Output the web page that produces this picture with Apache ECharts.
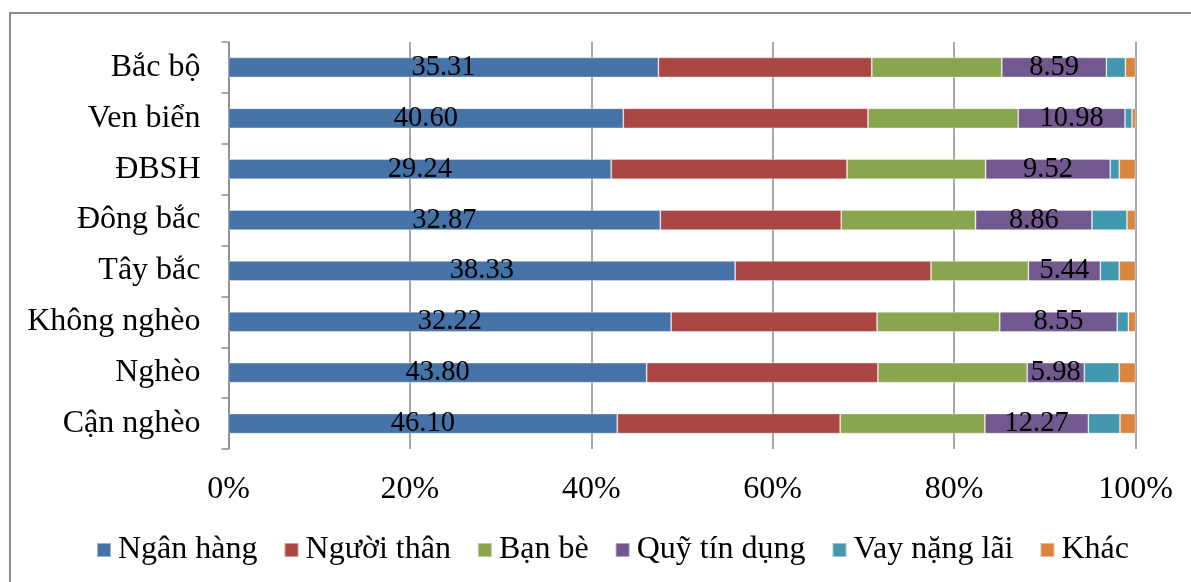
<!DOCTYPE html>
<html>
<head>
<meta charset="utf-8">
<script src="https://cdn.jsdelivr.net/npm/echarts@6/dist/echarts.min.js"></script>
<style>
  html, body { margin: 0; padding: 0; background: #fff; }
  #frame { position: absolute; left: 9px; top: 12px; width: 1200px; height: 600px; border: 2px solid #8a8a8a; box-sizing: border-box; }
  #chart { position: absolute; left: 0; top: 0; width: 1191px; height: 582px; }
</style>
</head>
<body>
<div id="frame"></div>
<div id="chart"></div>
<script>
// Loan sources by region / poverty group (raw values, shown as shares of each row)
const categories = ['Bắc bộ', 'Ven biển', 'ĐBSH', 'Đông bắc', 'Tây bắc', 'Không nghèo', 'Nghèo', 'Cận nghèo'];
const nganHang   = [35.31, 40.60, 29.24, 32.87, 38.33, 32.22, 43.80, 46.10];
const nguoiThan  = [17.52, 25.16, 18.02, 13.77, 14.82, 14.99, 24.22, 26.43];
const banBe      = [10.68, 15.45, 10.59, 10.23,  7.37,  8.93, 15.64, 17.16];
const quyTinDung = [ 8.59, 10.98,  9.52,  8.86,  5.44,  8.55,  5.98, 12.27];
const vayNangLai = [ 1.56,  0.72,  0.69,  2.66,  1.43,  0.81,  3.66,  3.75];
const khac       = [ 0.83,  0.36,  1.24,  0.65,  1.23,  0.52,  1.70,  1.84];
const xTicks = [0, 20, 40, 60, 80, 100];

const seriesDefs = [
  { name: 'Ngân hàng',    data: nganHang,   color: '#4572A7', label: true },
  { name: 'Người thân',   data: nguoiThan,  color: '#AA4643', label: false },
  { name: 'Bạn bè',       data: banBe,      color: '#89A54E', label: false },
  { name: 'Quỹ tín dụng', data: quyTinDung, color: '#71588F', label: true },
  { name: 'Vay nặng lãi', data: vayNangLai, color: '#4198AF', label: false },
  { name: 'Khác',         data: khac,       color: '#DB843D', label: false }
];

// Row totals for the 100% stacking
const totals = categories.map((_, i) => seriesDefs.reduce((s, d) => s + d.data[i], 0));

const FONT = "'Liberation Serif', 'Times New Roman', serif";

const chart = echarts.init(document.getElementById('chart'), null, { renderer: 'canvas' });
chart.setOption({
  animation: false,
  textStyle: { fontFamily: FONT },
  grid: { left: 228.5, right: 55.5, top: 42, bottom: 133, containLabel: false },
  legend: {
    bottom: 11,
    left: 91,
    itemWidth: 14,
    itemHeight: 14,
    itemGap: 26,
    icon: 'rect',
    textStyle: { fontFamily: FONT, fontSize: 32, color: '#000', padding: [0, 0, 0, 2] },
    data: seriesDefs.map(d => d.name)
  },
  xAxis: {
    type: 'value',
    min: xTicks[0],
    max: xTicks[xTicks.length - 1],
    interval: 20,
    axisLine: { show: false },
    axisTick: { show: false },
    axisLabel: { formatter: '{value}%', fontFamily: FONT, fontSize: 32, color: '#000', margin: 25 },
    splitLine: { show: true, lineStyle: { color: '#8a8a8a', width: 1.5 } }
  },
  yAxis: {
    type: 'category',
    inverse: true,
    data: categories,
    axisLine: { show: true, lineStyle: { color: '#8a8a8a', width: 1.5 } },
    axisTick: { show: true, length: 7, lineStyle: { color: '#8a8a8a', width: 1.5 } },
    axisLabel: { fontFamily: FONT, fontSize: 32, color: '#000', margin: 28 }
  },
  series: seriesDefs.map(d => ({
    name: d.name,
    type: 'bar',
    stack: 'total',
    barWidth: 20,
    itemStyle: { color: d.color, borderColor: 'rgba(255,255,255,0.45)', borderWidth: 0.8 },
    data: d.data.map((v, i) => v / totals[i] * 100),
    label: {
      show: d.label,
      position: 'inside',
      fontFamily: FONT,
      fontSize: 28.5,
      color: '#000',
      formatter: p => d.data[p.dataIndex].toFixed(2)
    }
  }))
});
</script>
</body>
</html>
